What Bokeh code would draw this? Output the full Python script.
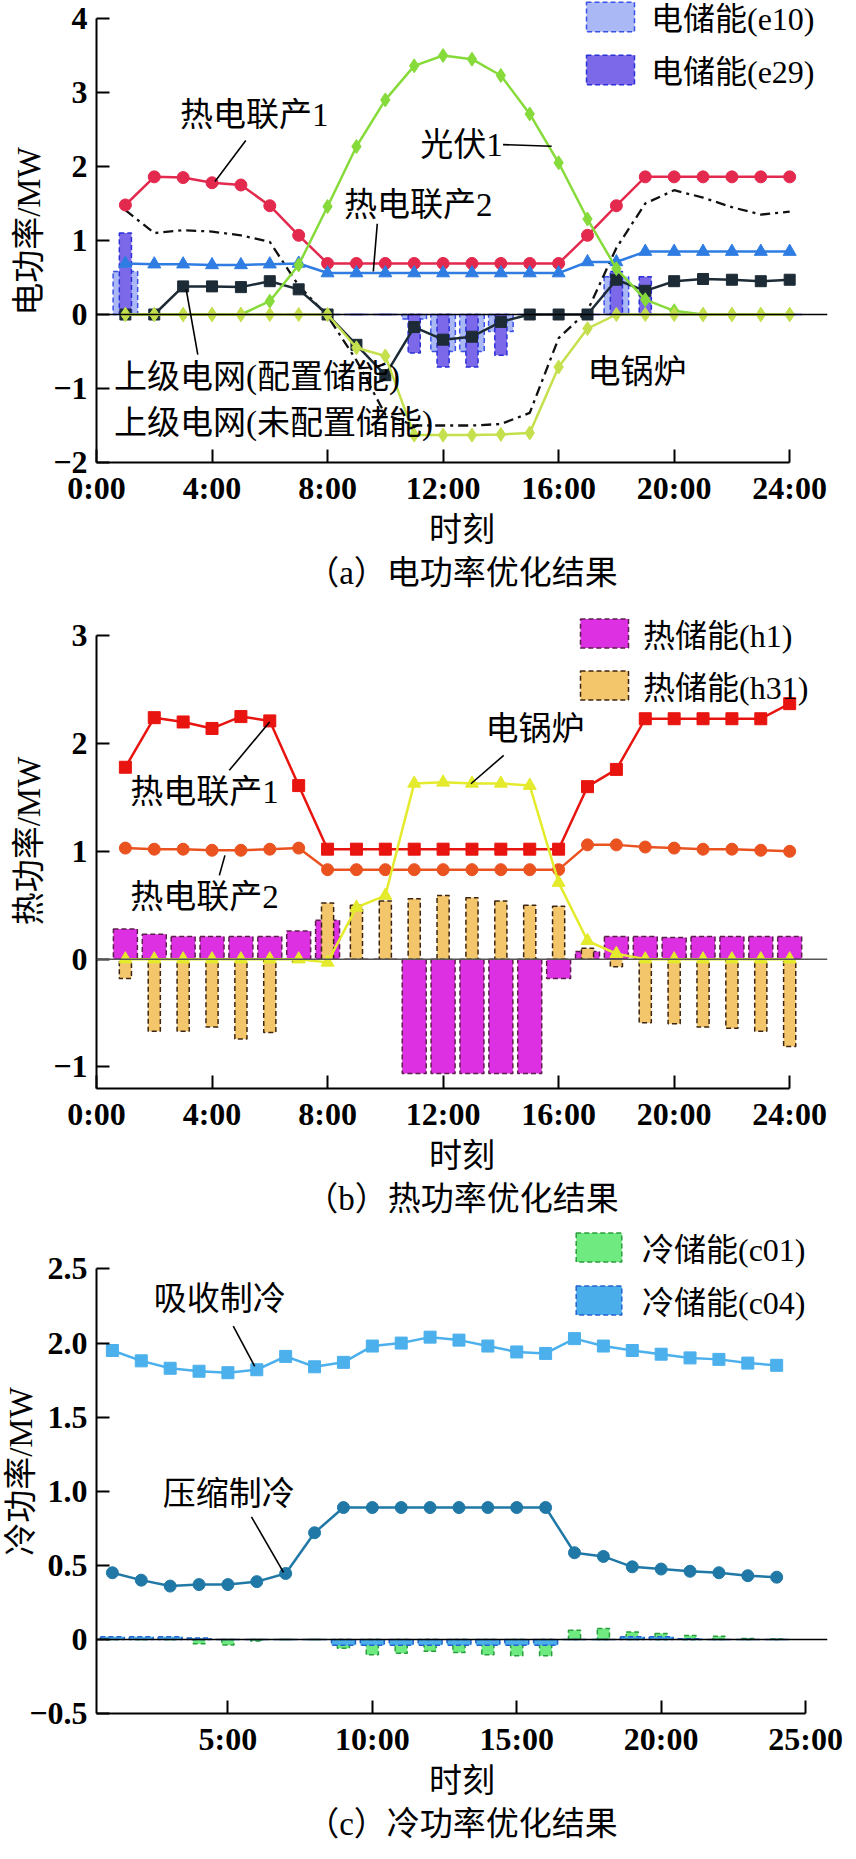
from bokeh.plotting import figure
from bokeh.models import Range1d, FixedTicker, Span, Label, Legend, LegendItem, Title
from bokeh.layouts import column
from bokeh.embed import file_html
from bokeh.resources import INLINE

hours = list(range(1, 25))

# ---------------- (a) electric power ----------------
a_chp1 = [1.48, 1.86, 1.85, 1.78, 1.75, 1.47, 1.07, 0.69, 0.69, 0.69, 0.69, 0.69,
          0.69, 0.69, 0.69, 0.69, 1.07, 1.47, 1.86, 1.86, 1.86, 1.86, 1.86, 1.86]
a_chp2 = [0.69, 0.68, 0.68, 0.67, 0.67, 0.68, 0.69, 0.56, 0.56, 0.56, 0.56, 0.56,
          0.56, 0.56, 0.56, 0.56, 0.71, 0.71, 0.85, 0.85, 0.85, 0.85, 0.85, 0.85]
a_grid_es = [0.0, 0.0, 0.38, 0.38, 0.37, 0.45, 0.34, 0.0, -0.41, -0.82, -0.17, -0.34,
             -0.30, -0.10, 0.0, 0.0, 0.0, 0.47, 0.32, 0.45, 0.48, 0.47, 0.45, 0.47]
a_grid_noes = [1.41, 1.10, 1.14, 1.12, 1.07, 0.98, 0.39, -0.02, -0.62, -1.35, -1.50, -1.50,
               -1.50, -1.48, -1.33, -0.32, 0.05, 0.90, 1.50, 1.68, 1.58, 1.45, 1.35, 1.39]
a_pv = [0, 0, 0, 0, 0, 0.18, 0.67, 1.46, 2.27, 2.90, 3.36, 3.50,
        3.45, 3.23, 2.71, 2.05, 1.29, 0.62, 0.20, 0.05, 0, 0, 0, 0]
a_boiler = [0, 0, 0, 0, 0, 0, 0, 0, -0.45, -0.56, -1.63, -1.63,
            -1.63, -1.62, -1.60, -0.71, -0.19, 0, 0, 0, 0, 0, 0, 0]
a_e10 = [0.58, 0, 0, 0, 0, 0, 0, 0, 0, 0, -0.06, -0.50,
         -0.50, -0.23, 0, 0, 0, 0.51, 0, 0, 0, 0, 0, 0]
a_e29 = [1.10, 0, 0, 0, 0, 0, 0, 0, 0, 0, -0.52, -0.71,
         -0.71, -0.55, 0, 0, 0, 0.58, 0.51, 0, 0, 0, 0, 0]
a_xticks = [0, 4, 8, 12, 16, 20, 24]
a_xlabels = ["0:00", "4:00", "8:00", "12:00", "16:00", "20:00", "24:00"]
a_yticks = [-2, -1, 0, 1, 2, 3, 4]
a_ylabels = ["\u22122", "\u22121", "0", "1", "2", "3", "4"]

# ---------------- (b) heat power ----------------
b_chp1 = [1.78, 2.24, 2.20, 2.14, 2.25, 2.21, 1.61, 1.02, 1.02, 1.02, 1.02, 1.02,
          1.02, 1.02, 1.02, 1.02, 1.60, 1.76, 2.23, 2.23, 2.23, 2.23, 2.23, 2.37]
b_chp2 = [1.03, 1.02, 1.02, 1.01, 1.01, 1.02, 1.03, 0.83, 0.83, 0.83, 0.83, 0.83,
          0.83, 0.83, 0.83, 0.83, 1.06, 1.06, 1.04, 1.03, 1.02, 1.02, 1.01, 1.00]
b_boiler = [0, 0, 0, 0, 0, 0, 0, -0.03, 0.48, 0.59, 1.63, 1.64,
            1.63, 1.63, 1.61, 0.71, 0.17, 0.05, 0, 0, 0, 0, 0, 0]
b_h1 = [0.28, 0.23, 0.21, 0.21, 0.21, 0.21, 0.26, 0.36, 0, 0, -1.06, -1.06,
        -1.06, -1.06, -1.06, -0.18, 0.07, 0.21, 0.21, 0.20, 0.21, 0.21, 0.21, 0.21]
b_h31 = [-0.18, -0.67, -0.67, -0.63, -0.74, -0.68, -0.03, 0.52, 0.50, 0.54, 0.56, 0.59,
         0.57, 0.54, 0.50, 0.49, 0.10, -0.07, -0.59, -0.60, -0.63, -0.64, -0.67, -0.81]
b_yticks = [-1, 0, 1, 2, 3]
b_ylabels = ["\u22121", "0", "1", "2", "3"]

# ---------------- (c) cooling power ----------------
c_absorb = [1.95, 1.88, 1.83, 1.81, 1.80, 1.82, 1.91, 1.84, 1.87, 1.98, 2.00, 2.04,
            2.02, 1.98, 1.94, 1.93, 2.03, 1.98, 1.95, 1.925, 1.90, 1.89, 1.865, 1.85]
c_compress = [0.45, 0.40, 0.36, 0.37, 0.37, 0.39, 0.445, 0.72, 0.89, 0.89, 0.89, 0.89,
              0.89, 0.89, 0.89, 0.89, 0.585, 0.56, 0.49, 0.475, 0.46, 0.45, 0.43, 0.42]
c_c01 = [0, 0, 0, -0.03, -0.037, -0.01, 0, 0, -0.06, -0.104, -0.093, -0.08,
         -0.088, -0.104, -0.11, -0.11, 0.062, 0.073, 0.05, 0.04, 0.026, 0.022, 0.007, 0.003]
c_c04 = [0.018, 0.018, 0.018, 0.01, 0, 0, 0, 0, -0.04, -0.04, -0.04, -0.04,
         -0.04, -0.04, -0.04, -0.04, 0, 0, 0.018, 0.018, 0.005, 0, 0, 0]
c_xticks = [5, 10, 15, 20, 25]
c_xlabels = ["5:00", "10:00", "15:00", "20:00", "25:00"]
c_yticks = [-0.5, 0, 0.5, 1.0, 1.5, 2.0, 2.5]
c_ylabels = ["\u22120.5", "0", "0.5", "1.0", "1.5", "2.0", "2.5"]

MIX = "'Liberation Serif', 'Noto Sans CJK SC'"
NUM = "'Liberation Serif', 'DejaVu Serif'"
TXT = "33px"
PXH = 29.08  # pixels per hour


# page-pixel -> data helpers for annotation placement inside the frames
def X(px):
    return (px - 99.0) / PXH


def Xc(px):
    return 0.45 + (px - 99.0) / PXH


def Ya(py):
    return (319.0 - py) / 75.8


def Yb(py):
    return (967.1 - py) / 107.8


def Yc(py):
    return (1656.7 - py) / 151.1


def base_fig(height, xr, yr, bottom, xb, yb, xt, xl, yt, yl, ylabel, ylab_standoff, caption):
    p = figure(width=848, height=height, x_range=Range1d(*xr), y_range=Range1d(*yr),
               output_backend="svg", toolbar_location=None, title=None,
               min_border_left=91, min_border_right=21, min_border_top=0,
               min_border_bottom=bottom)
    p.xgrid.visible = False
    p.ygrid.visible = False
    p.outline_line_color = None
    for ax in (p.xaxis[0], p.yaxis[0]):
        ax.axis_line_width = 2
        ax.axis_line_color = "black"
        ax.major_tick_line_width = 2
        ax.major_tick_line_color = "black"
        ax.major_tick_in = 13
        ax.major_tick_out = 0
        ax.minor_tick_line_color = None
        ax.major_label_text_font = NUM
        ax.major_label_text_font_size = "32px"
        ax.major_label_text_font_style = "bold"
        ax.major_label_text_color = "black"
        ax.axis_label_text_font = MIX
        ax.axis_label_text_font_size = TXT
        ax.axis_label_text_font_style = "normal"
        ax.axis_label_text_color = "black"
    p.xaxis.bounds = xb
    p.yaxis.bounds = yb
    p.xaxis.ticker = FixedTicker(ticks=xt)
    p.yaxis.ticker = FixedTicker(ticks=yt)
    p.xaxis.major_label_overrides = dict(zip(xt, xl))
    p.yaxis.major_label_overrides = dict(zip(yt, yl))
    p.xaxis.major_label_standoff = 7
    p.yaxis.major_label_standoff = 9
    p.xaxis.axis_label = "时刻"
    p.xaxis.axis_label_standoff = 3
    p.yaxis.axis_label = ylabel
    p.yaxis.axis_label_standoff = ylab_standoff
    p.add_layout(Title(text=caption, align="center", text_font=MIX, text_font_size=TXT,
                       text_font_style="normal", text_color="black", standoff=4), "below")
    return p


def label(p, x, y, text, align="left"):
    p.add_layout(Label(x=x, y=y, text=text, text_align=align, text_baseline="middle",
                       text_font=MIX, text_font_size=TXT, text_color="black"))


def leader(p, x0, y0, x1, y1):
    p.segment(x0=[x0], y0=[y0], x1=[x1], y1=[y1], line_color="black", line_width=1.6)


def series(p, y, color, marker, size, width=2.5):
    p.line(hours, y, line_color=color, line_width=width)
    p.scatter(hours, y, marker=marker, size=size, fill_color=color, line_color=color)


def legend(p, items, loc, gw, gh, standoff, spacing):
    leg = Legend(items=[LegendItem(label=t, renderers=[r]) for t, r in items],
                 location=loc, orientation="vertical", glyph_width=gw, glyph_height=gh,
                 label_height=gh, label_standoff=standoff, spacing=spacing, padding=0,
                 margin=0, border_line_color=None, background_fill_alpha=0,
                 label_text_font=MIX, label_text_font_size="32px",
                 label_text_baseline="middle", label_text_color="black")
    p.add_layout(leg)


XEND = 736 / PXH

# ================= panel (a) =================
KA = (470 - 26) / 6.0
pa = base_fig(593, (0, XEND), (-2, -2 + 462 / KA), 131, (0, 24), (-2, 4),
              a_xticks, a_xlabels, a_yticks, a_ylabels, "电功率/MW", 3, "（a）电功率优化结果")
pa.add_layout(Span(location=0, dimension="width", line_color="black", line_width=1.5))
r_e10 = pa.vbar(x=hours, top=a_e10, bottom=0, width=0.85, fill_color="#aab9f6",
                line_color="#3b50e6", line_dash="5 3", line_width=1.5)
r_e29 = pa.vbar(x=hours, top=a_e29, bottom=0, width=0.42, fill_color="#7b69ea",
                line_color="#2b2fd8", line_dash="5 3", line_width=1.5)
pa.line(hours, a_grid_noes, line_color="#111111", line_width=2.3, line_dash="10 5 3 5")
series(pa, a_chp1, "#e3294d", "circle", 12)
series(pa, a_chp2, "#2f7de2", "triangle", 13)
series(pa, a_grid_es, "#1c2b36", "square", 11)
series(pa, a_pv, "#86db3b", "diamond", 14)
series(pa, a_boiler, "#c5e04d", "diamond", 14)
legend(pa, [("电储能(e10)", r_e10), ("电储能(e29)", r_e29)], (484, 370), 60, 37, 11, 7)

label(pa, X(183), Ya(115), "热电联产1")
leader(pa, X(249.3), Ya(140.7), X(218.3), Ya(182.7))
label(pa, X(425), Ya(145), "光伏1")
leader(pa, X(508.3), Ya(145), X(557.3), Ya(146.7))
label(pa, X(348.3), Ya(206.7), "热电联产2")
leader(pa, X(381.7), Ya(226), X(377.7), Ya(275))
label(pa, X(116.7), Ya(383.3), "上级电网(配置储能)")
leader(pa, X(201), Ya(360), X(189.3), Ya(293.3))
label(pa, X(116.7), Ya(430), "上级电网(未配置储能)")
label(pa, X(593.3), Ya(378.3), "电锅炉")

# ================= panel (b) =================
pb = base_fig(636, (0, XEND), (-1.2, -1.2 + 495 / 107.8), 141, (0, 24), (-1.2, 3),
              a_xticks, a_xlabels, b_yticks, b_ylabels, "热功率/MW", 3, "（b）热功率优化结果")
pb.add_layout(Span(location=0, dimension="width", line_color="#555555", line_width=1.5))
r_h1 = pb.vbar(x=hours, top=b_h1, bottom=0, width=0.83, fill_color="#dc30e2",
               line_color="#5e1d4e", line_dash="5 3", line_width=1.5)
r_h31 = pb.vbar(x=hours, top=b_h31, bottom=0, width=0.42, fill_color="#f4c66c",
                line_color="#3d2410", line_dash="5 3", line_width=1.5)
series(pb, b_chp1, "#e8140f", "square", 12)
series(pb, b_chp2, "#ea5220", "circle", 12)
series(pb, b_boiler, "#e4ea2c", "triangle", 13)
legend(pb, [("热储能(h1)", r_h1), ("热储能(h31)", r_h31)], (478, 380), 60, 36, 9, 6)

label(pb, X(133), Yb(800), "热电联产1")
leader(pb, X(232.7), Yb(778.3), X(273.3), Yb(730))
label(pb, X(133), Yb(905), "热电联产2")
leader(pb, X(222.7), Yb(883.3), X(228.3), Yb(863.3))
label(pb, X(490.7), Yb(736.7), "电锅炉")
leader(pb, X(509), Yb(763.3), X(476), Yb(791.7))

# ================= panel (c) =================
pc = base_fig(614, (0.45, 0.45 + XEND), (-0.5, -0.5 + 489 / 149.7), 125, (0.45, 25), (-0.5, 2.5),
              c_xticks, c_xlabels, c_yticks, c_ylabels, "冷功率/MW", -13, "（c）冷功率优化结果")
pc.add_layout(Span(location=0, dimension="width", line_color="black", line_width=1.5))
r_c01 = pc.vbar(x=hours, top=c_c01, bottom=0, width=0.42, fill_color="#6eea80",
                line_color="#2a9e3c", line_dash="5 3", line_width=1.5)
r_c04 = pc.vbar(x=hours, top=c_c04, bottom=0, width=0.83, fill_color="#4aaeea",
                line_color="#2463cf", line_dash="5 3", line_width=1.5)
series(pc, c_absorb, "#4cb0ec", "square", 12)
series(pc, c_compress, "#1f78a6", "circle", 12)
legend(pc, [("冷储能(c01)", r_c01), ("冷储能(c04)", r_c04)], (474, 390), 57, 36, 15, 7)

label(pc, Xc(156.7), Yc(1310), "吸收制冷")
leader(pc, Xc(236.7), Yc(1337.3), Xc(258.3), Yc(1378.3))
label(pc, Xc(165.7), Yc(1508.3), "压缩制冷")
leader(pc, Xc(255), Yc(1531.7), Xc(287.3), Yc(1588.3))

layout = column(pa, pb, pc, spacing=0)
open("out.html", "w").write(file_html(layout, INLINE))
